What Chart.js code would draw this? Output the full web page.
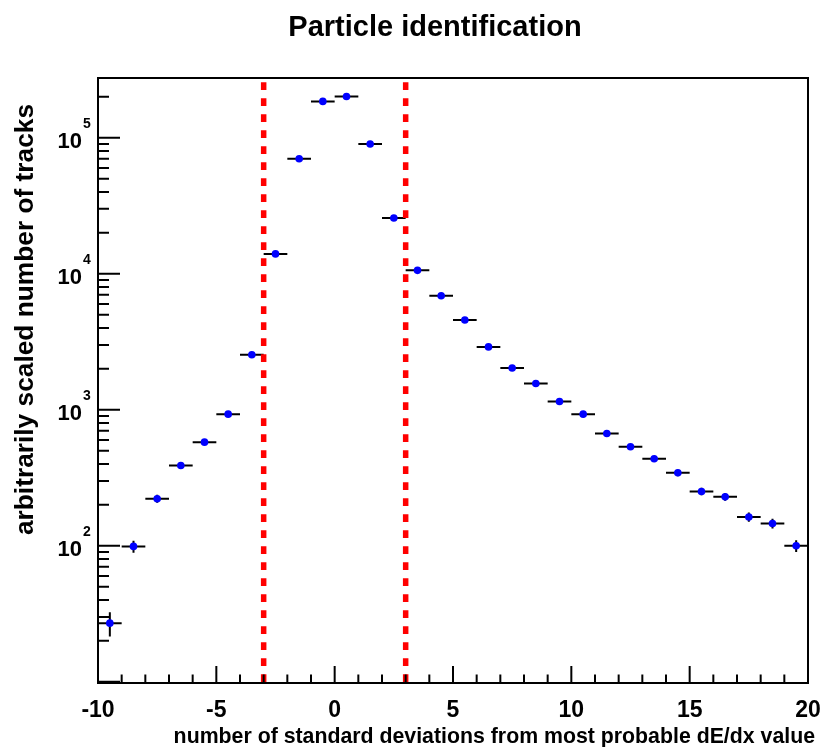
<!DOCTYPE html>
<html>
<head>
<meta charset="utf-8">
<title>Particle identification</title>
<script src="https://cdn.jsdelivr.net/npm/chart.js@4.4.1/dist/chart.umd.min.js"></script>
<style>
  body { margin: 0; background: #fff; }
</style>
</head>
<body>
<canvas id="pidChart" width="824" height="747"></canvas>
<script>
// bin centres (one unit wide bins) and the counts
const binCenters = [-9.5, -8.5, -7.5, -6.5, -5.5, -4.5, -3.5, -2.5, -1.5, -0.5,
                    0.5, 1.5, 2.5, 3.5, 4.5, 5.5, 6.5, 7.5, 8.5, 9.5,
                    10.5, 11.5, 12.5, 13.5, 14.5, 15.5, 16.5, 17.5, 18.5, 19.5];
const counts = [27, 99, 222, 389, 578, 929, 2540, 14000, 70000, 185000,
                201000, 90000, 25700, 10600, 6900, 4570, 2900, 2030, 1560, 1150,
                929, 670, 535, 436, 344, 251, 229, 163, 146, 100];
const countErrors = [5.5, 10, 15, 20, 24, 30, 50, 118, 265, 430,
                     448, 300, 160, 103, 83, 68, 54, 45, 39, 34,
                     30, 26, 23, 21, 19, 16, 15, 13, 12, 10];
const binHalfWidth = 0.5;
const cutLines = [-3, 3];
const yDecades = [100, 1000, 10000, 100000];

const FONT = '"Liberation Sans", Arial, Helvetica, sans-serif';

const rootStyle = {
  id: 'rootStyle',
  beforeDatasetsDraw(chart) {
    const ctx = chart.ctx;
    const xs = chart.scales.x, ys = chart.scales.y;
    ctx.save();
    ctx.strokeStyle = '#000';
    ctx.lineWidth = 2;
    binCenters.forEach((c, i) => {
      const py = ys.getPixelForValue(counts[i]);
      const px = xs.getPixelForValue(c);
      ctx.beginPath();
      ctx.moveTo(xs.getPixelForValue(c - binHalfWidth), py);
      ctx.lineTo(xs.getPixelForValue(c + binHalfWidth), py);
      ctx.moveTo(px, ys.getPixelForValue(counts[i] - countErrors[i]));
      ctx.lineTo(px, ys.getPixelForValue(counts[i] + countErrors[i]));
      ctx.stroke();
    });
    ctx.restore();
  },
  afterDatasetsDraw(chart) {
    const ctx = chart.ctx;
    const xs = chart.scales.x;
    const area = chart.chartArea;
    ctx.save();
    ctx.strokeStyle = '#ff0000';
    ctx.lineWidth = 5.5;
    ctx.setLineDash([7.7, 8.3]);
    cutLines.forEach(v => {
      const px = xs.getPixelForValue(v);
      ctx.beginPath();
      ctx.moveTo(px, area.top + 4.3);
      ctx.lineTo(px, area.bottom);
      ctx.stroke();
    });
    ctx.restore();
  },
  afterDraw(chart) {
    const ctx = chart.ctx;
    const xs = chart.scales.x, ys = chart.scales.y;
    const a = chart.chartArea;
    ctx.save();
    ctx.strokeStyle = '#000';
    ctx.lineWidth = 2;
    ctx.strokeRect(a.left, a.top, a.right - a.left, a.bottom - a.top);

    // x ticks, inside the frame
    ctx.beginPath();
    for (let v = xs.min; v <= xs.max; v++) {
      const px = xs.getPixelForValue(v);
      const len = (v % 5 === 0) ? 17 : 8.5;
      ctx.moveTo(px, a.bottom);
      ctx.lineTo(px, a.bottom - len);
    }
    // y ticks, log decades with minor ticks
    for (let d = 1; d <= 5; d++) {
      for (let m = 1; m <= 9; m++) {
        const v = m * Math.pow(10, d);
        if (v < ys.min || v > ys.max) continue;
        const py = ys.getPixelForValue(v);
        ctx.moveTo(a.left, py);
        ctx.lineTo(a.left + (m === 1 ? 22 : 11), py);
      }
    }
    ctx.stroke();

    // y labels 10^n
    ctx.fillStyle = '#000';
    yDecades.forEach(v => {
      const py = ys.getPixelForValue(v);
      ctx.font = 'bold 22px ' + FONT;
      ctx.textAlign = 'right';
      ctx.textBaseline = 'alphabetic';
      ctx.fillText('10', 82, py + 10.6);
      ctx.font = 'bold 14px ' + FONT;
      ctx.textAlign = 'left';
      ctx.fillText(String(Math.round(Math.log10(v))), 83, py - 9.4);
    });

    // titles
    ctx.font = 'bold 29px ' + FONT;
    ctx.textAlign = 'center';
    ctx.fillText('Particle identification', 435, 36);

    ctx.font = 'bold 21.3px ' + FONT;
    ctx.textAlign = 'right';
    ctx.fillText('number of standard deviations from most probable dE/dx value', 815, 743);

    ctx.translate(33, 319.5);
    ctx.rotate(-Math.PI / 2);
    ctx.font = 'bold 26.3px ' + FONT;
    ctx.textAlign = 'center';
    ctx.fillText('arbitrarily scaled number of tracks', 0, 0);
    ctx.restore();
  }
};

const ctx = document.getElementById('pidChart').getContext('2d');
const pidChart = new Chart(ctx, {
  type: 'scatter',
  data: {
    datasets: [{
      label: 'tracks',
      data: binCenters.map((c, i) => ({ x: c, y: counts[i] })),
      backgroundColor: '#0000ff',
      borderWidth: 0,
      pointRadius: 3.8,
      pointHoverRadius: 3.8
    }]
  },
  options: {
    responsive: false,
    animation: false,
    layout: { padding: { left: 0, top: 78, right: 16, bottom: 0 } },
    scales: {
      x: {
        type: 'linear',
        min: -10,
        max: 20,
        grid: { display: false, drawTicks: false },
        border: { display: false },
        ticks: {
          stepSize: 5,
          padding: 14,
          color: '#000',
          font: { family: FONT, size: 23, weight: 'bold' },
          callback: v => String(v)
        },
        afterFit: scale => {
          scale.height = 64;
          scale.paddingLeft = 0;
          scale.paddingRight = 0;
        }
      },
      y: {
        type: 'logarithmic',
        min: 9.8,
        max: 275000,
        grid: { display: false, drawTicks: false },
        border: { display: false },
        ticks: { display: false },
        afterFit: scale => { scale.width = 98; }
      }
    },
    plugins: {
      legend: { display: false },
      tooltip: { enabled: false }
    }
  },
  plugins: [rootStyle]
});
</script>
</body>
</html>
